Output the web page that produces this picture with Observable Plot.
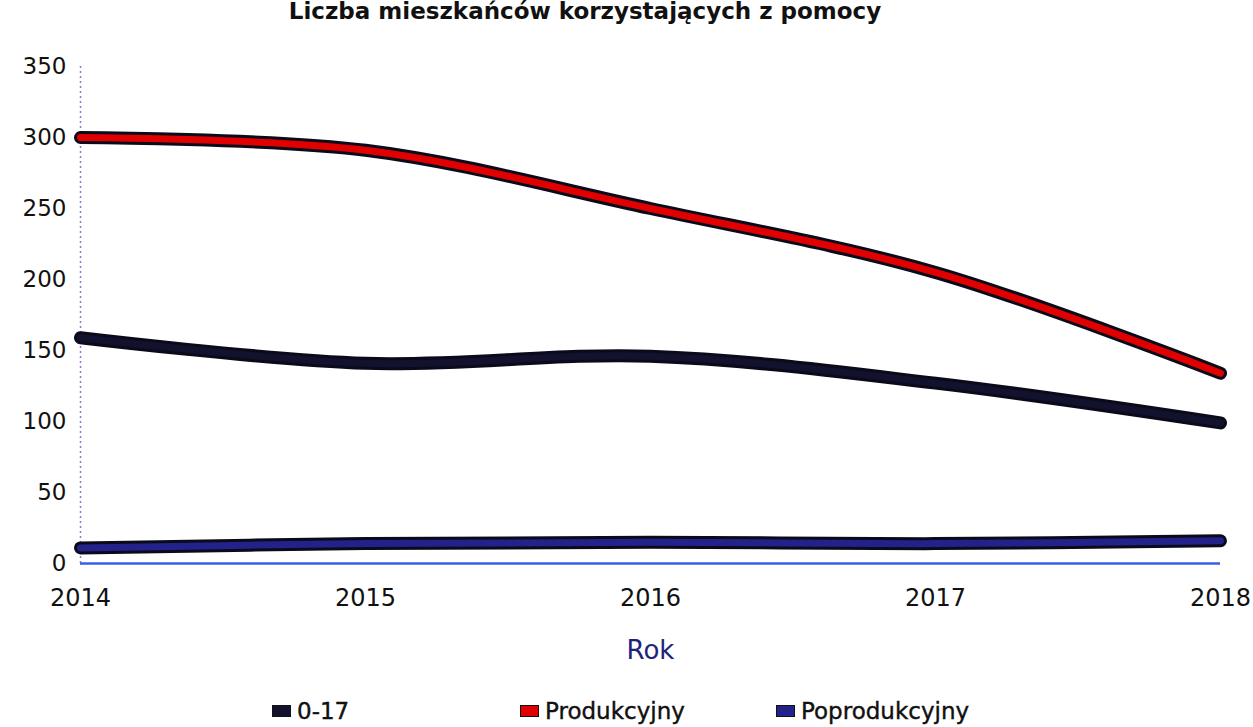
<!DOCTYPE html>
<html><head><meta charset="utf-8">
<script src="https://cdn.jsdelivr.net/npm/d3@7"></script>
<script src="https://cdn.jsdelivr.net/npm/@observablehq/plot@0.6"></script>
<style>
body{margin:0;background:#fff;font-family:"DejaVu Sans",sans-serif;overflow:hidden;}
#wrap{position:relative;width:1253px;height:727px;}
#title{position:absolute;top:-4px;left:0;width:1170px;text-align:center;font-size:23px;font-weight:bold;color:#111;line-height:30px;white-space:nowrap;}
#chart{position:absolute;top:0;left:0;}
#legend{position:absolute;top:698px;left:0;width:1253px;font-size:23px;color:#111;}
.li{position:absolute;top:0;display:flex;align-items:center;white-space:nowrap;-webkit-text-stroke:0.4px #111;}
.sw{width:17px;height:10px;margin-right:6px;display:inline-block;border:1px solid #111;}
</style></head><body>
<div id="wrap">
<div id="title">Liczba mieszkańców korzystających z pomocy</div>
<div id="chart"></div>
<div id="legend"></div>
</div>
<script>
const years = [2014, 2015, 2016, 2017, 2018];
const seriesNames = ["0-17", "Produkcyjny", "Poprodukcyjny"];
const age017 = [159, 141, 146, 127, 99];
const produkcyjny = [300, 291, 250, 205, 134];
const poprodukcyjny = [11, 14, 15, 14, 16];
const yTicks = [0, 50, 100, 150, 200, 250, 300, 350];
const colors = ["#12122e", "#e00000", "#22228a"];

const values = [age017, produkcyjny, poprodukcyjny];
const data = [];
seriesNames.forEach((s, i) => years.forEach((y, j) => data.push({series: s, year: y, value: values[i][j]})));

const lineOpts = {x: "year", y: "value", z: "series", curve: "catmull-rom", strokeLinecap: "round", strokeLinejoin: "round"};

const plot = Plot.plot({
  width: 1253,
  height: 690,
  marginLeft: 80,
  marginRight: 33,
  marginTop: 66,
  marginBottom: 127,
  x: {domain: [2014, 2018], ticks: years, tickFormat: d => String(d)},
  y: {domain: [0, 350], ticks: yTicks},
  style: {fontFamily: "DejaVu Sans", color: "#111"},
  marks: [
    Plot.ruleX([2014], {stroke: "#8877cc", strokeWidth: 1.5, strokeDasharray: "2,3"}),
    Plot.ruleY([0], {stroke: "#3a5ee0", strokeWidth: 2.5}),
    Plot.axisY({ticks: yTicks, tickSize: 0, tickPadding: 14, fontSize: 23, label: null, stroke: "#111", strokeWidth: 0.7}),
    Plot.axisX({ticks: years, tickSize: 0, tickPadding: 25, fontSize: 24, label: null, tickFormat: d => String(d), stroke: "#111", strokeWidth: 0.7}),
    Plot.line(data, {...lineOpts, stroke: "#0a0a1a", strokeWidth: 13}),
    Plot.line(data, {...lineOpts, stroke: d => d.series, strokeWidth: 7}),
    Plot.text(["Rok"], {frameAnchor: "bottom", dy: 95, fontSize: 26, fill: "#22227a"})
  ],
  color: {domain: seriesNames, range: colors}
});
document.getElementById("chart").appendChild(plot);

const legendX = [272, 520, 776];
const leg = document.getElementById("legend");
seriesNames.forEach((s, i) => {
  const d = document.createElement("div");
  d.className = "li";
  d.style.left = legendX[i] + "px";
  d.innerHTML = `<span class="sw" style="background:${colors[i]}"></span><span>${s}</span>`;
  leg.appendChild(d);
});
</script>
</body></html>
